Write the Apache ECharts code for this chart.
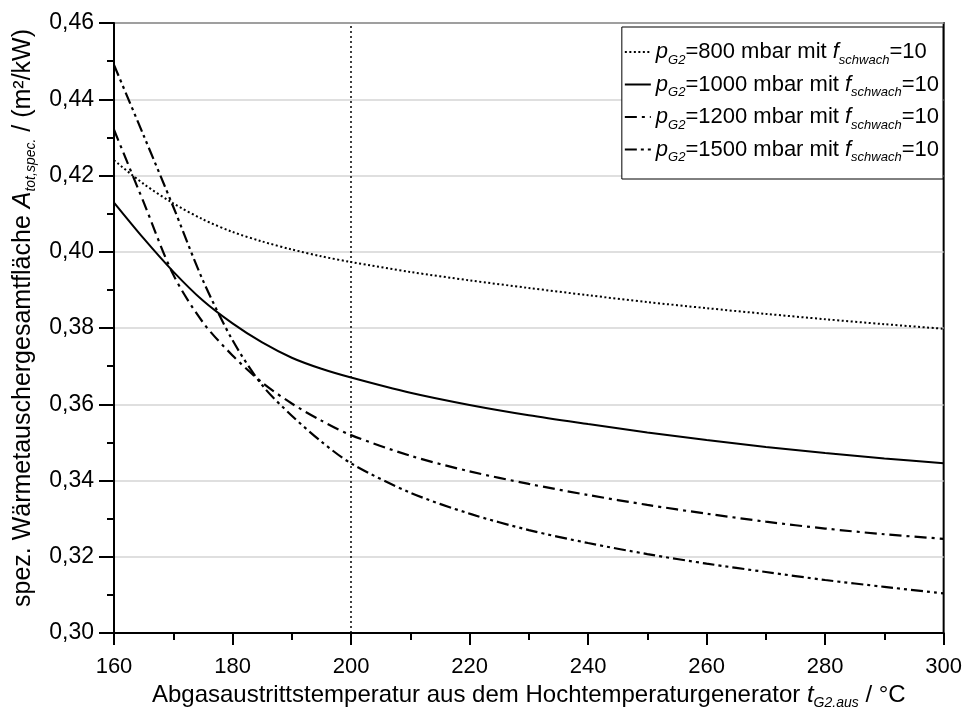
<!DOCTYPE html>
<html>
<head>
<meta charset="utf-8">
<script src="https://cdn.jsdelivr.net/npm/echarts@6/dist/echarts.min.js"></script>
<style>
html,body{margin:0;padding:0;background:#fff;}
#chart{width:965px;height:715px;}
</style>
</head>
<body>
<div id="chart"></div>
<script>
var temps = [160,165,170,175,180,185,190,195,200,210,220,230,240,250,260,270,280,290,300];
var p800  = [0.4240,0.4178,0.4127,0.4085,0.4052,0.4027,0.4006,0.3988,0.3973,0.3947,0.3925,0.3905,0.3886,0.3868,0.3852,0.3837,0.3823,0.3810,0.3798];
var p1000 = [0.4129,0.4035,0.3948,0.3872,0.3812,0.3762,0.3722,0.3693,0.3670,0.3630,0.3598,0.3571,0.3548,0.3526,0.3506,0.3488,0.3472,0.3458,0.3445];
var p1200 = [0.4320,0.4130,0.3940,0.3815,0.3728,0.3657,0.3602,0.3557,0.3519,0.3465,0.3424,0.3391,0.3362,0.3336,0.3313,0.3292,0.3274,0.3259,0.3247];
var p1500 = [0.4490,0.4305,0.4118,0.3925,0.3768,0.3650,0.3570,0.3502,0.3445,0.3368,0.3313,0.3270,0.3236,0.3207,0.3182,0.3160,0.3139,0.3121,0.3104];
var seriesNames = ['800','1000','1200','1500'];
var refTemp = [200];
var xTicks = {min:160, max:300, interval:20};
var yTicks = {min:0.30, max:0.46, interval:0.02};

function pairs(arr){ return temps.map(function(t,i){ return [t, arr[i]]; }); }

var FONT = '"Liberation Sans", Arial, sans-serif';
function mkRich(size, subSize, subPad){
  return {
    t:  {fontSize:size, fontFamily:FONT, color:'#000'},
    i:  {fontSize:size, fontFamily:FONT, fontStyle:'italic', color:'#000'},
    sub:{fontSize:subSize, fontFamily:FONT, fontStyle:'italic', color:'#000', padding:[subPad,0,0,0]}
  };
}

var chart = echarts.init(document.getElementById('chart'));
var dashStyles = [[2,2.5], 'solid', [12,5,3,5], [12,4,3,4,3,4]];
var widths = [2, 2, 2.2, 2.2];
var datas = [p800,p1000,p1200,p1500];

var series = seriesNames.map(function(n, k){
  var s = {
    name: n,
    type: 'line',
    data: pairs(datas[k]),
    smooth: 0.3,
    symbol: 'none',
    lineStyle: {color:'#000', width: widths[k], type: dashStyles[k]},
    itemStyle: {color:'#000'},
    z: 5
  };
  if (k === 0) {
    s.markLine = {
      silent: true,
      symbol: ['none','none'],
      label: {show:false},
      lineStyle: {color:'#000', width:1.5, type:[2,3]},
      data: refTemp.map(function(v){ return {xAxis: v}; })
    };
  }
  return s;
});

chart.setOption({
  animation: false,
  backgroundColor: '#fff',
  grid: {left:114, right:21, top:23, bottom:82, show:true, borderColor:'#000', borderWidth:2, backgroundColor:'#fff'},
  legend: {
    orient: 'vertical',
    right: 22, top: 27,
    backgroundColor: '#fff',
    borderColor: '#000', borderWidth: 1,
    borderRadius: 0,
    padding: [14, 4, 15, 2],
    itemGap: 7,
    itemWidth: 26, itemHeight: 12,
    itemStyle: {opacity: 0, color:'rgba(0,0,0,0)', borderWidth:0},
    data: seriesNames,
    formatter: function(name){
      return '{i|p}{sub|G2}{t|=' + name + ' mbar mit }{i|f}{sub|schwach}{t|=10}';
    },
    textStyle: {rich: mkRich(22, 13, 16), fontSize:22, fontFamily:FONT, color:'#000'}
  },
  xAxis: {
    type: 'value',
    min: xTicks.min, max: xTicks.max, interval: xTicks.interval,
    name: '{t|Abgasaustrittstemperatur aus dem Hochtemperaturgenerator }{i|t}{sub|G2.aus}{t| / °C}',
    nameLocation: 'middle',
    nameGap: 40,
    nameTextStyle: {rich: mkRich(24, 14, 16)},
    axisLine: {show:true, onZero:false, lineStyle:{color:'#000', width:2}},
    axisTick: {show:true, inside:false, length:12, lineStyle:{color:'#000', width:2}},
    minorTick: {show:true, splitNumber:2, length:7, lineStyle:{color:'#000', width:2}},
    axisLabel: {fontSize:22, fontFamily:FONT, color:'#000', margin:23},
    splitLine: {show:false}
  },
  yAxis: {
    type: 'value',
    min: yTicks.min, max: yTicks.max, interval: yTicks.interval,
    name: '{t|spez. Wärmetauschergesamtfläche }{i|A}{sub|tot,spec.}{t| / (m²/kW)}',
    nameLocation: 'middle',
    nameRotate: 90,
    nameGap: 74,
    nameTextStyle: {rich: mkRich(25, 14, 16), padding:[0,0,0,20]},
    axisLine: {show:true, onZero:false, lineStyle:{color:'#000', width:2}},
    axisTick: {show:true, inside:false, length:15, lineStyle:{color:'#000', width:2}},
    minorTick: {show:true, splitNumber:2, length:7, lineStyle:{color:'#000', width:2}},
    axisLabel: {fontSize:23, fontFamily:FONT, color:'#000', margin:20,
      formatter: function(v){ return v.toFixed(2).replace('.', ','); }},
    splitLine: {show:true, lineStyle:{color:'#d4d4d4', width:1.5}}
  },
  series: series
});
</script>
</body>
</html>
